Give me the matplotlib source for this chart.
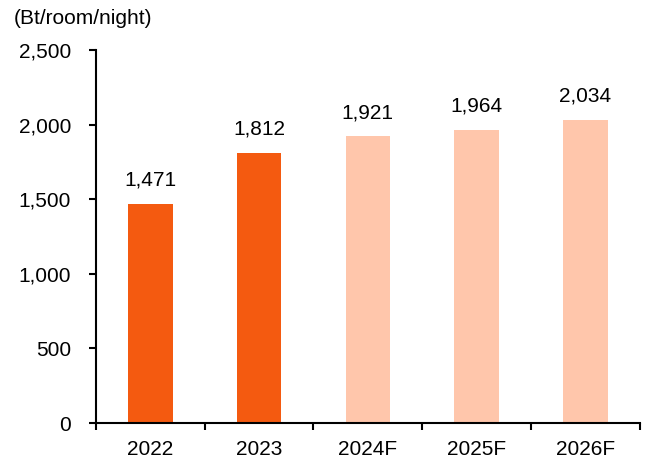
import matplotlib.pyplot as plt

plt.rcParams['font.family'] = ['Liberation Sans', 'DejaVu Sans']

# data
years = ['2022', '2023', '2024F', '2025F', '2026F']
adr = [1471, 1812, 1921, 1964, 2034]
actual_color = '#F45A10'
forecast_color = '#FFC6AB'
colors = [actual_color, actual_color, forecast_color, forecast_color, forecast_color]

fig = plt.figure(figsize=(6.51, 4.59), dpi=100)
ax = fig.add_axes([0.1475, 0.0784, 0.835, 0.8126])

x = range(len(years))
ax.bar(x, adr, width=0.41, color=colors)

# value labels above bars
for i, v in enumerate(adr):
    ax.text(i, v + 95, f'{v:,}', ha='center', va='bottom', fontsize=15)

ax.set_xlim(-0.5, len(years) - 0.5)
ax.set_ylim(0, 2500)
ax.set_yticks(range(0, 2501, 500))
ax.set_yticklabels([f'{t:,}' for t in range(0, 2501, 500)])

# category labels centered, tick marks on the boundaries
ax.set_xticks([i - 0.5 for i in range(len(years) + 1)])
ax.set_xticklabels([])
ax.set_xticks(list(x), minor=True)
ax.set_xticklabels(years, minor=True)
ax.tick_params(axis='x', which='minor', length=0, pad=12, labelsize=15)
ax.tick_params(axis='x', which='major', length=5, width=1.5, direction='out')
ax.tick_params(axis='y', length=5, width=1.5, labelsize=15, pad=13)

ax.spines['top'].set_visible(False)
ax.spines['right'].set_visible(False)
ax.spines['left'].set_linewidth(1.5)
ax.spines['bottom'].set_linewidth(1.5)

fig.text(0.021, 0.96, '(Bt/room/night)', fontsize=15, ha='left', va='center')

fig.savefig('out.png', dpi=100)
